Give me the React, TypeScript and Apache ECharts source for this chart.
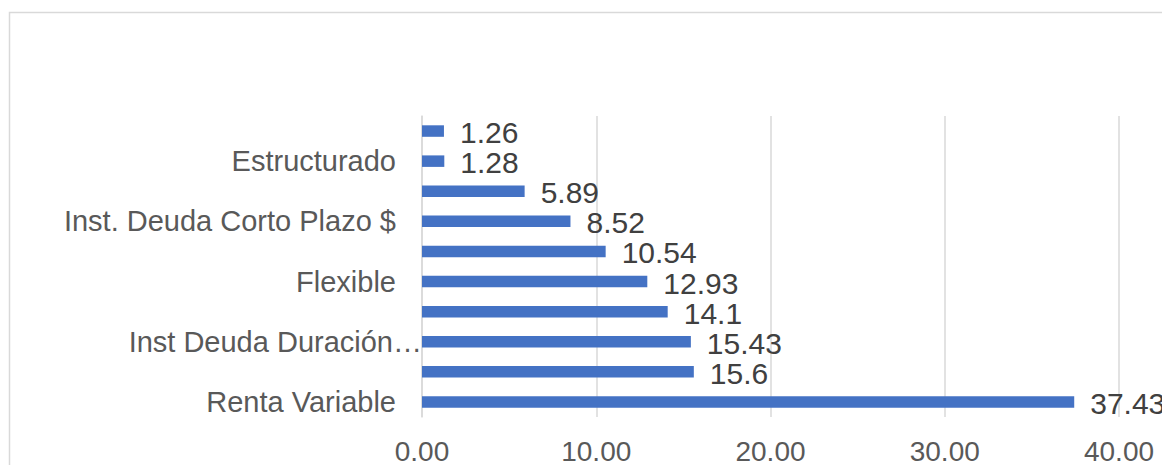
import React, { useEffect, useRef } from "react";
import * as echarts from "echarts";

// bottom-to-top order
const categories = [
  "Renta Variable",
  "Inst. Deuda Corto Plazo US$",
  "Inst Deuda Duración Menor a 365 Días",
  "Mercado de Dinero $",
  "Flexible",
  "Mixto",
  "Inst. Deuda Corto Plazo $",
  "Fondo de Fondos",
  "Estructurado",
  "Inst Deuda Mediano Plazo",
];
const values = [37.43, 15.6, 15.43, 14.1, 12.93, 10.54, 8.52, 5.89, 1.28, 1.26];
const xTicks = { min: 0, max: 40, interval: 10 };

const FONT = "'Liberation Sans', Arial, sans-serif";

function shortName(name: string): string {
  if (name.length <= 26) return name;
  const words = name.split(" ");
  let out = "";
  for (const w of words) {
    const next = out ? out + " " + w : w;
    if (next.length > 20) break;
    out = next;
  }
  return out + "…";
}

export default function App() {
  const ref = useRef<HTMLDivElement>(null);
  useEffect(() => {
    if (!ref.current) return;
    const chart = echarts.init(ref.current, undefined, { renderer: "svg" });
    chart.setOption({
      animation: false,
      backgroundColor: "#ffffff",
      graphic: [
        {
          type: "rect",
          silent: true,
          shape: { x: 9.5, y: 12.5, width: 1300, height: 600 },
          style: { fill: "none", stroke: "#d9d9d9", lineWidth: 1.5 },
        },
      ],
      grid: {
        left: 422,
        right: 43,
        top: 116,
        bottom: 48,
        containLabel: false,
        outerBoundsMode: "none",
      },
      xAxis: {
        type: "value",
        min: xTicks.min,
        max: xTicks.max,
        interval: xTicks.interval,
        axisLine: { show: false },
        axisTick: { show: false },
        splitLine: { show: true, lineStyle: { color: "#d9d9d9", width: 1.5 } },
        axisLabel: {
          color: "#595959",
          fontSize: 28,
          fontFamily: FONT,
          margin: 20,
          formatter: (v: number) => v.toFixed(2),
        },
      },
      yAxis: {
        type: "category",
        data: categories,
        axisTick: { show: false },
        axisLine: { show: true, lineStyle: { color: "#d9d9d9", width: 1.5 } },
        axisLabel: {
          interval: 1,
          margin: 0,
          color: "#595959",
          fontSize: 29,
          fontFamily: FONT,
          formatter: (v: string) => {
            const s = shortName(v);
            return s === v ? `{n|${s}}` : `{t|${s}}`;
          },
          rich: {
            n: { color: "#595959", fontSize: 29, fontFamily: FONT, padding: [0, 26, 0, 0] },
            t: { color: "#595959", fontSize: 29, fontFamily: FONT, padding: [0, 0, 0, 0] },
          },
        },
      },
      series: [
        {
          type: "bar",
          data: values,
          barWidth: 11.5,
          itemStyle: { color: "#4472C4" },
          label: {
            show: true,
            position: "right",
            distance: 16,
            offset: [0, 1.5],
            color: "#404040",
            fontSize: 30,
            fontFamily: FONT,
            formatter: (p: any) => String(p.value),
          },
        },
      ],
    });
    return () => chart.dispose();
  }, []);
  return (
    <div
      ref={ref}
      style={{ position: "fixed", left: 0, top: 0, width: 1162, height: 465 }}
    />
  );
}
